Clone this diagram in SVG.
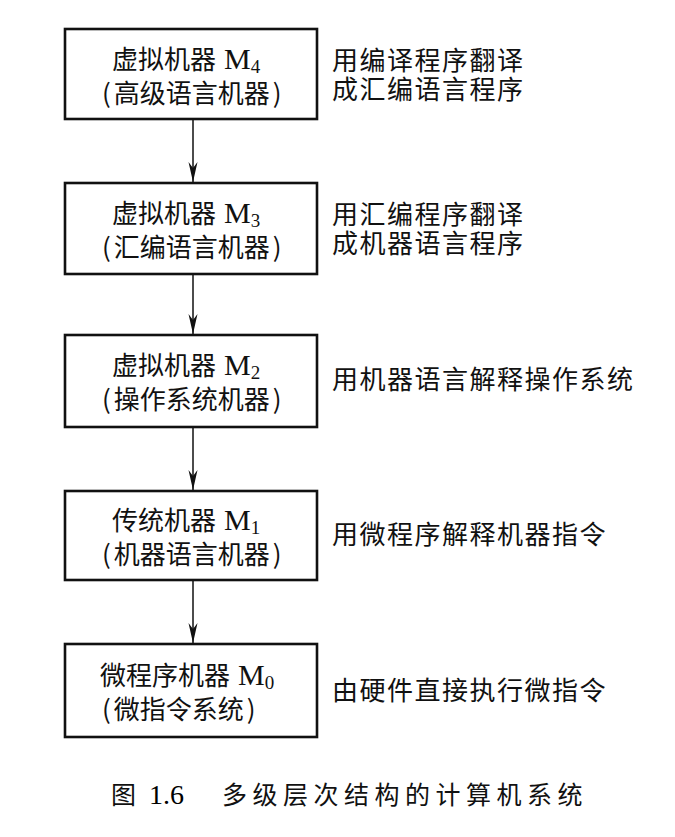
<svg xmlns="http://www.w3.org/2000/svg" width="675" height="837" viewBox="0 0 675 837">
<style>
.box{fill:#fff;stroke:#111;stroke-width:2.6}
.t{font-family:"Noto Sans CJK SC","Noto Sans",sans-serif;font-size:26px;fill:#111}
.r{font-family:"Noto Sans CJK SC","Noto Sans",sans-serif;font-size:26px;fill:#111;letter-spacing:1.5px}
.m{font-family:"Liberation Serif",serif;font-size:30px}
.s{font-family:"Liberation Serif",serif;font-size:19px}
.cap{font-family:"Noto Sans CJK SC",sans-serif;font-size:25px;fill:#111}
.num{font-family:"Liberation Serif",serif;font-size:28px}
.c{stroke:#111;stroke-width:1.5;fill:none}
</style>
<defs>
<marker id="ah" markerUnits="userSpaceOnUse" markerWidth="22" markerHeight="12" viewBox="-20 -6 22 12" refX="0" refY="0" orient="auto">
<path d="M0,0 L-20,-4.5 L-14,0 L-20,4.5 Z" fill="#111"/>
</marker>
</defs>
<rect width="675" height="837" fill="#fff"/>
<g id="connectors">
<line class="c" x1="193" y1="120" x2="193" y2="182" marker-end="url(#ah)"/>
<line class="c" x1="193" y1="275" x2="193" y2="334" marker-end="url(#ah)"/>
<line class="c" x1="193" y1="428" x2="193" y2="490" marker-end="url(#ah)"/>
<line class="c" x1="193" y1="581" x2="193" y2="643" marker-end="url(#ah)"/>
</g>
<g id="m4">
<rect class="box" x="65" y="29" width="252" height="90"/>
<text class="t" x="112" y="69">虚拟机器<tspan class="m" dx="8">M</tspan><tspan class="s" dy="4">4</tspan></text>
<text class="t" x="102" y="103">(<tspan dx="3">高级语言机器</tspan><tspan dx="3">)</tspan></text>
<text class="r" x="332" y="70">用编译程序翻译</text>
<text class="r" x="332" y="99">成汇编语言程序</text>
</g>
<g id="m3">
<rect class="box" x="65" y="183" width="252" height="91"/>
<text class="t" x="112" y="223">虚拟机器<tspan class="m" dx="8">M</tspan><tspan class="s" dy="4">3</tspan></text>
<text class="t" x="102" y="257">(<tspan dx="3">汇编语言机器</tspan><tspan dx="3">)</tspan></text>
<text class="r" x="332" y="224">用汇编程序翻译</text>
<text class="r" x="332" y="253">成机器语言程序</text>
</g>
<g id="m2">
<rect class="box" x="65" y="335" width="252" height="92"/>
<text class="t" x="112" y="375">虚拟机器<tspan class="m" dx="8">M</tspan><tspan class="s" dy="4">2</tspan></text>
<text class="t" x="102" y="409">(<tspan dx="3">操作系统机器</tspan><tspan dx="3">)</tspan></text>
<text class="r" x="332" y="389">用机器语言解释操作系统</text>
</g>
<g id="m1">
<rect class="box" x="65" y="491" width="252" height="89"/>
<text class="t" x="112" y="530">传统机器<tspan class="m" dx="8">M</tspan><tspan class="s" dy="4">1</tspan></text>
<text class="t" x="102" y="564">(<tspan dx="3">机器语言机器</tspan><tspan dx="3">)</tspan></text>
<text class="r" x="332" y="544">用微程序解释机器指令</text>
</g>
<g id="m0">
<rect class="box" x="65" y="644" width="252" height="93"/>
<text class="t" x="100" y="685">微程序机器<tspan class="m" dx="8">M</tspan><tspan class="s" dy="4">0</tspan></text>
<text class="t" x="102" y="719">(<tspan dx="3">微指令系统</tspan><tspan dx="3">)</tspan></text>
<text class="r" x="332" y="700">由硬件直接执行微指令</text>
</g>
<g id="caption">
<text class="cap" x="111" y="804">图</text>
<text class="num" x="149" y="804">1.6</text>
<text class="cap" x="222" y="804" letter-spacing="5.5">多级层次结构的计算机系统</text>
</g>
</svg>
